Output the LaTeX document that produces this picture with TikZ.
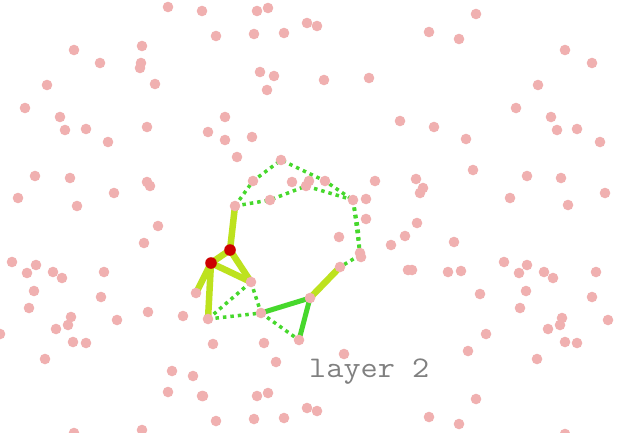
\documentclass[tikz,border=0pt]{standalone}
\usepackage{fontspec}
\definecolor{dotpink}{RGB}{240,176,176}
\definecolor{hubred}{RGB}{204,0,0}
\definecolor{limeedge}{RGB}{189,226,30}
\definecolor{greenedge}{RGB}{70,216,44}
\definecolor{labelgray}{RGB}{128,128,128}
\tikzset{
  limeline/.style={draw=limeedge,line width=6.5pt},
  greenline/.style={draw=greenedge,line width=5pt},
  dotline/.style={draw=greenedge,line width=3.5pt,dash pattern=on 3.5pt off 4pt},
  pinkdot/.style={fill=dotpink},
  reddot/.style={fill=hubred}
}
\begin{document}
\begin{tikzpicture}[x=1pt,y=-1pt]
\useasboundingbox (0,0) rectangle (617,432);
\fill[white] (0,0) rectangle (617,432);
\clip (0,0) rectangle (617,432);
% graph nodes
\coordinate (ra) at (230,250);
\coordinate (rb) at (211,263);
\coordinate (n1) at (235,206);
\coordinate (n2) at (251,282);
\coordinate (n3) at (196,293);
\coordinate (n4) at (208,319);
\coordinate (n5) at (261,313);
\coordinate (n6) at (310,298);
\coordinate (n7) at (299,340);
\coordinate (n8) at (340,267);
\coordinate (n9) at (253,181);
\coordinate (n10) at (281,160);
\coordinate (n11) at (325,181);
\coordinate (n12) at (353,200);
\coordinate (n13) at (270,200);
\coordinate (n14) at (306,186);
\coordinate (n15) at (360,255);
\coordinate (n16) at (358,228);
% dotted edges
\draw[dotline] (n1) -- (n9) -- (n10) -- (n11) -- (n12);
\draw[dotline] (n1) -- (n13) -- (n14) -- (n12);
\draw[dotline] (n12) -- (n15);
\draw[dotline] (n12) -- (n16) -- (n15);
\draw[dotline] (n15) -- (n8);
\draw[dotline] (n4) -- (n2);
\draw[dotline] (n4) -- (n5);
\draw[dotline] (n2) -- (n5);
\draw[dotline] (n5) -- (n7);
% solid edges
\draw[limeline] (ra) -- (n1);
\draw[limeline] (ra) -- (rb);
\draw[limeline] (ra) -- (n2);
\draw[limeline] (rb) -- (n2);
\draw[limeline] (rb) -- (n3);
\draw[limeline] (rb) -- (n4);
\draw[limeline] (n8) -- (n6);
\draw[greenline] (n6) -- (n5);
\draw[greenline] (n6) -- (n7);
% pink dots
\foreach \p in {
(168,7),(202,11),(257,11),(268,8),(307,23),(317,26),(216,36),(254,34),(284,33),
(74,50),(142,46),(100,63),(141,63),(140,68),(155,84),(47,85),(25,108),(60,117),(65,130),(86,129),(108,142),(147,127),(208,132),
(260,72),(274,76),(267,90),(324,80),(369,78),(225,117),(225,140),(252,137),(400,121),
(476,14),(429,32),(459,39),(565,50),(592,63),(538,85),(516,108),(551,117),(557,130),(577,129),(600,142),(434,127),(466,139),
(35,176),(70,178),(18,198),(77,206),(114,193),(147,182),(150,186),(158,226),(144,243),(12,262),(27,273),(36,265),(53,272),(62,278),(104,272),(34,291),
(237,157),(281,160),(253,181),(292,182),(309,181),(306,186),(325,181),(375,181),(235,206),(270,200),(353,200),(366,199),(366,219),(339,237),(391,245),(405,236),(360,253),(361,257),(408,270),(412,270),
(340,267),(251,282),
(416,179),(423,188),(420,193),(473,170),(527,176),(561,178),(605,193),(510,198),(568,205),(417,223),(454,242),(448,272),(461,271),(504,262),(527,265),(519,273),(544,272),(553,278),(596,272),(480,294),(526,291),
(29,308),(101,297),(71,317),(68,325),(56,329),(73,342),(86,343),(117,320),(148,312),(45,359),(183,316),(196,293),(208,319),(0,334),(172,371),(193,376),(168,392),(202,396),(74,433),(142,430),
(261,313),(310,298),(299,340),(213,344),(264,343),(276,362),(344,354),(203,396),(257,396),(268,393),(307,408),(317,411),(216,421),(254,419),(284,418),
(592,297),(520,308),(608,320),(562,318),(560,325),(548,329),(565,342),(577,343),(486,334),(468,351),(537,359),(476,399),(429,417),(459,424),(565,434)}
  \fill[pinkdot] \p circle (5.3);
% red hubs
\fill[reddot] (ra) circle (5.8);
\fill[reddot] (rb) circle (5.8);
% label
\node[anchor=base west,inner sep=0pt,text=labelgray,font=\ttfamily\fontsize{30}{30}\selectfont] (lbl) at (309,377) {\scalebox{1.11}[1]{layer 2}};
\end{tikzpicture}
\end{document}
